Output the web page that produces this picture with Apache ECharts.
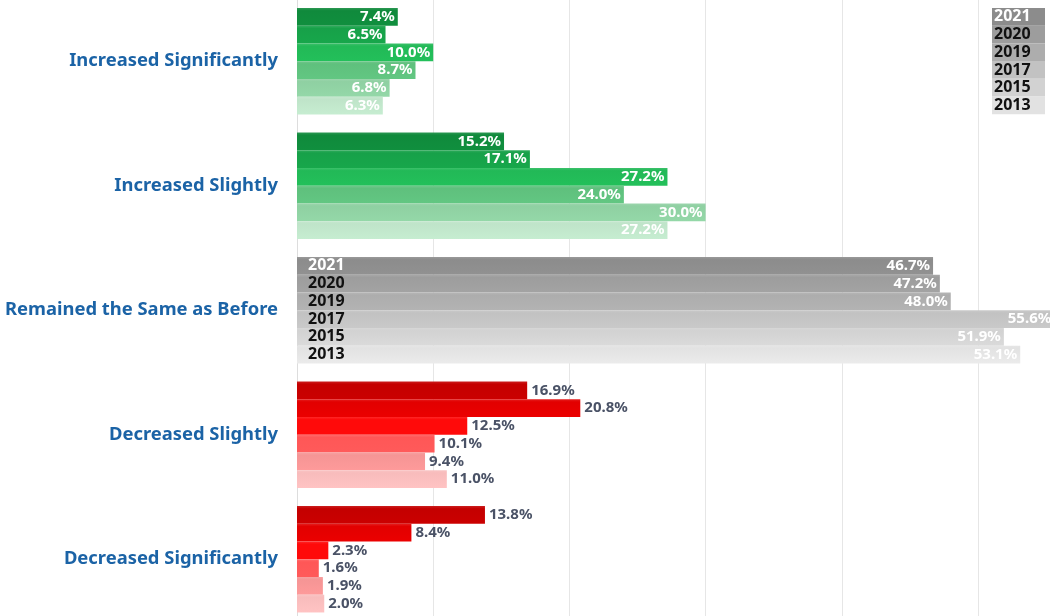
<!DOCTYPE html>
<html>
<head>
<meta charset="utf-8">
<script src="https://cdn.jsdelivr.net/npm/echarts@6/dist/echarts.min.js"></script>
<style>
  html, body { margin: 0; background: #fff; }
  #chart { width: 1050px; height: 616px; }
</style>
</head>
<body>
<div id="chart"></div>
<script>
const categories = [
  "Increased Significantly",
  "Increased Slightly",
  "Remained the Same as Before",
  "Decreased Slightly",
  "Decreased Significantly"
];
const years = ["2021", "2020", "2019", "2017", "2015", "2013"];

// one array per survey year, in category order
const v2021 = [7.4, 15.2, 46.7, 16.9, 13.8];
const v2020 = [6.5, 17.1, 47.2, 20.8, 8.4];
const v2019 = [10.0, 27.2, 48.0, 12.5, 2.3];
const v2017 = [8.7, 24.0, 55.6, 10.1, 1.6];
const v2015 = [6.8, 30.0, 51.9, 9.4, 1.9];
const v2013 = [6.3, 27.2, 53.1, 11.0, 2.0];
const values = [v2021, v2020, v2019, v2017, v2015, v2013];

// shades per year (2021 darkest)
const greens = ["#108a3c", "#17a149", "#22b957", "#5fc07d", "#8fd0a2", "#bfe4c9"];
const grays  = ["#8c8c8c", "#9d9d9d", "#adadad", "#c2c2c2", "#d2d2d2", "#e2e2e2"];
const reds   = ["#c40000", "#e20000", "#ff0a0a", "#ff5757", "#f59595", "#f8bcbc"];
const palettes = [greens, greens, grays, reds, reds];

const FONT = "Noto Sans";

// light top edge fading into the base shade
function shade(c) {
  return new echarts.graphic.LinearGradient(0, 0, 0, 1, [
    { offset: 0, color: echarts.color.lift(c, 0.12) },
    { offset: 0.15, color: c },
    { offset: 1, color: echarts.color.lift(c, -0.04) }
  ]);
}

const barSeries = years.map((y, i) => ({
  name: y,
  type: "bar",
  yAxisIndex: 0,
  barGap: 0,
  barCategoryGap: "14.5%",
  data: values[i].map((v, j) => {
    const outside = j >= 3;
    return {
      value: v,
      itemStyle: { color: shade(palettes[j][i]) },
      label: {
        show: true,
        position: outside ? "right" : "insideRight",
        distance: outside ? 4 : 3,
        color: outside ? "#4a5266" : "#ffffff",
        fontFamily: FONT,
        fontWeight: "bold",
        fontSize: 15,
        formatter: (p) => p.value.toFixed(1) + "%"
      }
    };
  })
}));

// year names printed inside the "Remained the Same" bars
const yearSeries = years.map((y, i) => ({
  name: y + "-tag",
  type: "bar",
  yAxisIndex: 1,
  barGap: 0,
  barCategoryGap: "14.5%",
  silent: true,
  itemStyle: { color: "rgba(0,0,0,0)" },
  label: {
    show: true,
    position: "insideLeft",
    distance: 11,
    color: i === 0 ? "#ffffff" : "#111111",
    fontFamily: FONT,
    fontWeight: "bold",
    fontSize: 16,
    formatter: () => y
  },
  data: values[i].map((v, j) => (j === 2 ? v : "-"))
}));

const chart = echarts.init(document.getElementById("chart"));
chart.setOption({
  animation: false,
  grid: {
    left: 297, right: -64.2, top: -1, bottom: -5.5,
    containLabel: false, outerBoundsMode: "none"
  },
  legend: {
    orient: "vertical",
    right: 5,
    top: 8,
    padding: 0,
    itemGap: 0,
    itemWidth: 0,
    itemHeight: 0,
    selectedMode: false,
    data: years.map((y, i) => ({
      name: y,
      icon: "rect",
      textStyle: {
        backgroundColor: grays[i],
        color: i === 0 ? "#ffffff" : "#111111",
        fontFamily: FONT,
        fontWeight: "bold",
        fontSize: 16,
        width: 48,
        height: 17.7,
        lineHeight: 17.7,
        align: "right",
        padding: [0, 3, 0, 2]
      }
    }))
  },
  xAxis: {
    type: "value",
    min: 0,
    max: 60,
    interval: 10,
    axisLabel: { show: false },
    axisLine: { show: false },
    axisTick: { show: false },
    splitLine: { lineStyle: { color: "#e6e6e6", width: 1 } }
  },
  yAxis: [
    {
      type: "category",
      data: categories,
      inverse: true,
      axisTick: { show: false },
      axisLine: { show: true, lineStyle: { color: "#dddddd" } },
      axisLabel: {
        margin: 19,
        color: "#1b63a6",
        fontFamily: FONT,
        fontWeight: "bold",
        fontSize: 18.4
      }
    },
    {
      type: "category",
      data: categories,
      inverse: true,
      show: false
    }
  ],
  series: barSeries.concat(yearSeries)
});
</script>
</body>
</html>
